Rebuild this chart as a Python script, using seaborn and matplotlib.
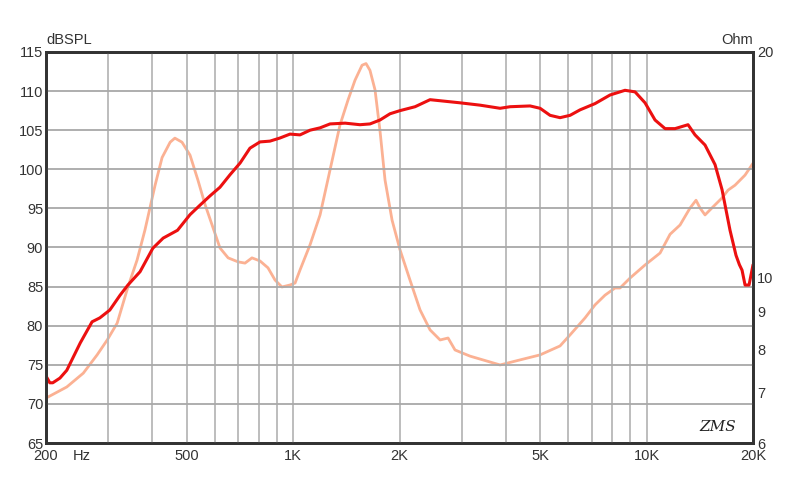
import numpy as np
import pandas as pd
import matplotlib
matplotlib.use("Agg")
import matplotlib.pyplot as plt
from matplotlib.ticker import FixedLocator, FixedFormatter, NullLocator
import seaborn as sns

# SPL response (Hz, dB)
spl_freq = [201, 205, 209, 219, 229, 250, 270, 284, 303, 324, 341, 369, 401, 429, 471,
            511, 545, 582, 621, 663, 708, 755, 806, 860, 918, 980, 1046, 1117, 1192,
            1272, 1403, 1546, 1650, 1761, 1880, 2006, 2213, 2440, 2690, 2966, 3380,
            3850, 4109, 4681, 4996, 5332, 5690, 6074, 6482, 7146, 7880, 8688, 9273,
            9897, 10564, 11277, 12035, 13096, 13707, 14629, 15614, 16342, 17216,
            17900, 18300, 18618, 18986, 19486, 20000]
spl_db = [73.4, 72.7, 72.7, 73.3, 74.3, 77.8, 80.5, 81.0, 82.0, 83.9, 85.2, 86.9, 89.9,
          91.2, 92.2, 94.2, 95.4, 96.6, 97.7, 99.3, 100.8, 102.7, 103.5, 103.6, 104.0,
          104.5, 104.4, 105.0, 105.3, 105.8, 105.9, 105.7, 105.8, 106.3, 107.1, 107.5,
          108.0, 108.9, 108.7, 108.5, 108.2, 107.8, 108.0, 108.1, 107.8, 106.9, 106.6,
          106.9, 107.6, 108.4, 109.5, 110.1, 109.9, 108.5, 106.3, 105.2, 105.2, 105.7,
          104.4, 103.1, 100.6, 97.4, 92.2, 89.0, 87.8, 87.1, 85.2, 85.2, 87.8]

# Impedance (Hz, Ohm)
imp_freq = [200, 229, 255, 279, 298, 318, 341, 362, 381, 407, 426, 449, 463, 485, 511,
            538, 564, 590, 621, 655, 699, 731, 765, 806, 849, 889, 930, 980, 1013,
            1046, 1117, 1192, 1272, 1357, 1430, 1497, 1567, 1608, 1650, 1705, 1761,
            1820, 1905, 2006, 2141, 2286, 2440, 2605, 2744, 2871, 3166, 3606, 3850,
            4386, 4996, 5690, 6074, 6697, 7146, 7628, 8141, 8410, 8975, 9897, 10916,
            11650, 12432, 13268, 13797, 14161, 14629, 15114, 15614, 16342, 16994,
            17785, 18986, 20000]
imp_ohm = [6.89, 7.13, 7.44, 7.87, 8.24, 8.68, 9.70, 10.54, 11.56, 13.27, 14.45, 15.15,
           15.34, 15.15, 14.56, 13.48, 12.49, 11.74, 10.94, 10.61, 10.48, 10.44, 10.61,
           10.51, 10.29, 9.91, 9.70, 9.76, 9.82, 10.22, 11.05, 12.11, 13.91, 15.97,
           17.25, 18.34, 19.2, 19.3, 18.9, 17.8, 15.7, 13.48, 11.92, 10.88, 9.91, 9.04,
           8.50, 8.24, 8.29, 7.99, 7.84, 7.70, 7.63, 7.75, 7.87, 8.09, 8.37, 8.82, 9.18,
           9.46, 9.67, 9.67, 9.97, 10.38, 10.77, 11.41, 11.74, 12.37, 12.67, 12.37,
           12.11, 12.30, 12.49, 12.76, 13.07, 13.27, 13.69, 14.2]

x_ticks = [200, 500, 1000, 2000, 5000, 10000, 20000]
x_labels = ["200", "500", "1K", "2K", "5K", "10K", "20K"]
x_grid = [300, 400, 500, 600, 700, 800, 900, 1000, 2000, 3000, 4000, 5000, 6000,
          7000, 8000, 9000, 10000]
y_ticks = [65, 70, 75, 80, 85, 90, 95, 100, 105, 110, 115]
z_ticks = [6, 7, 8, 9, 10, 20]

sns.set_style("white")
plt.rcParams['font.family'] = ['Liberation Sans', 'DejaVu Sans']

spl = pd.DataFrame({"freq": spl_freq, "db": spl_db})
imp = pd.DataFrame({"freq": imp_freq, "ohm": imp_ohm})

fig = plt.figure(figsize=(8, 4.84), dpi=100)
ax = fig.add_axes([0.0575, 0.0847, 0.8838, 0.8079])
ax.set_xscale('log')
ax.set_xlim(200, 20000)
ax.set_ylim(65, 115)

for g in x_grid:
    ax.axvline(g, color='#b8b8b8', lw=1.3, zorder=0)
for y in y_ticks[1:-1]:
    ax.axhline(y, color='#a8a8a8', lw=1.3, zorder=0)

ax2 = ax.twinx()
ax2.set_yscale('log')
ax2.set_ylim(6, 20)

sns.lineplot(data=imp, x="freq", y="ohm", ax=ax2, color='#fbb193', lw=2.0, sort=False)
sns.lineplot(data=spl, x="freq", y="db", ax=ax, color='#ec1010', lw=2.2, sort=False)
ax.set_zorder(ax2.get_zorder() + 1)
ax.patch.set_visible(False)

ax.xaxis.set_major_locator(FixedLocator(x_ticks))
ax.xaxis.set_major_formatter(FixedFormatter(x_labels))
ax.xaxis.set_minor_locator(NullLocator())
ax.set_yticks(y_ticks)
ax2.yaxis.set_major_locator(FixedLocator(z_ticks))
ax2.yaxis.set_major_formatter(FixedFormatter([str(z) for z in z_ticks]))
ax2.yaxis.set_minor_locator(NullLocator())

for a in (ax, ax2):
    a.set_xlabel("")
    a.set_ylabel("")
    a.tick_params(length=0, labelsize=10.5, colors='#333333', pad=3)
    for s in a.spines.values():
        s.set_color('#333333')
        s.set_linewidth(2)
ax.tick_params(axis='x', pad=4.5)
ax.tick_params(axis='y', pad=2)
ax2.tick_params(axis='y', pad=3)

ax.text(0.0, 1.012, "dBSPL", transform=ax.transAxes, ha='left', va='bottom',
        fontsize=10.5, color='#333333')
ax.text(1.0, 1.012, "Ohm", transform=ax.transAxes, ha='right', va='bottom',
        fontsize=10.5, color='#333333')
ax.text(0.05, -0.016, "Hz", transform=ax.transAxes, ha='center', va='top',
        fontsize=10.5, color='#333333')
ax.text(0.95, 0.04, "ZMS", transform=ax.transAxes, ha='center', va='center',
        fontsize=11, fontstyle='italic', color='#222222', family='DejaVu Serif')

fig.savefig("out.png", dpi=100)
